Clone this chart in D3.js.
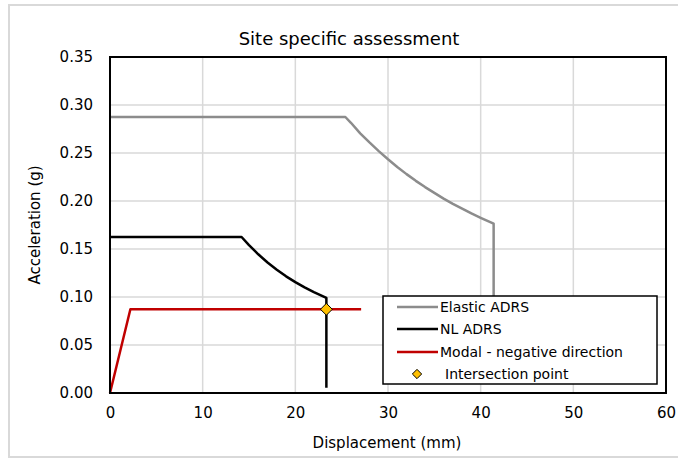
<!DOCTYPE html>
<html><head><meta charset="utf-8">
<script src="https://cdn.jsdelivr.net/npm/d3@7"></script>
<style>body{margin:0;background:#fff}svg{display:block}text{font-family:"DejaVu Sans",Verdana,sans-serif;fill:#000}</style>
</head><body><svg id="c" width="678" height="459"></svg>
<script>
const xTicks = [0, 10, 20, 30, 40, 50, 60];
const yTicks = [0, 0.05, 0.10, 0.15, 0.20, 0.25, 0.30, 0.35];
const elasticD = [0, 25.4, 26, 27, 28, 29, 30, 31, 32, 33, 34, 35, 36, 37, 38, 39, 40, 41.4, 41.4];
const elasticA = [0.2875, 0.2875, 0.2815, 0.2705, 0.261, 0.252, 0.2435, 0.2355, 0.228, 0.221, 0.2145, 0.2085, 0.2025, 0.197, 0.192, 0.187, 0.1825, 0.1765, 0.02];
const nlD = [0, 14.2, 15, 16, 17, 18, 19, 20, 21, 22, 23.35, 23.35];
const nlA = [0.1625, 0.1625, 0.154, 0.1445, 0.136, 0.1285, 0.1215, 0.1155, 0.11, 0.105, 0.099, 0.0055];
const modalD = [0, 2.2, 27.1];
const modalA = [0, 0.0872, 0.0872];
const interD = [23.35];
const interA = [0.0872];
const legendLabels = ["Elastic ADRS", "NL ADRS", "Modal - negative direction", "Intersection point"];

const svg = d3.select("#c");
const L = 110, R = 666, T = 57, B = 393;
const x = d3.scaleLinear().domain([0, 60]).range([L, R]);
const y = d3.scaleLinear().domain([0, 0.35]).range([B, T]);

svg.append("rect").attr("x", 9).attr("y", 5).attr("width", 700).attr("height", 452)
  .attr("fill", "#fff").attr("stroke", "#d9d9d9").attr("stroke-width", 2);

// grid
svg.append("g").selectAll("line").data(xTicks.slice(1, -1)).join("line")
  .attr("x1", d => x(d)).attr("x2", d => x(d)).attr("y1", T).attr("y2", B)
  .attr("stroke", "#d9d9d9").attr("stroke-width", 1.5);
svg.append("g").selectAll("line").data(yTicks.slice(1, -1)).join("line")
  .attr("x1", L).attr("x2", R).attr("y1", d => y(d)).attr("y2", d => y(d))
  .attr("stroke", "#d9d9d9").attr("stroke-width", 1.5);

// axes labels
const xa = svg.append("g").attr("transform", `translate(0,${B})`)
  .call(d3.axisBottom(x).tickValues(xTicks).tickSize(0).tickPadding(14).tickFormat(d3.format("d")));
xa.select(".domain").remove();
xa.selectAll("text").style("font-size", "15px").style("font-family", "DejaVu Sans");
const ya = svg.append("g").attr("transform", `translate(${L},0)`)
  .call(d3.axisLeft(y).tickValues(yTicks).tickSize(0).tickPadding(17).tickFormat(d3.format(".2f")));
ya.select(".domain").remove();
ya.selectAll("text").style("font-size", "15px").style("font-family", "DejaVu Sans");

const line = d3.line().x(d => x(d[0])).y(d => y(d[1]));
const zip = (a, b) => a.map((v, i) => [v, b[i]]);

svg.append("path").attr("d", line(zip(elasticD, elasticA))).attr("fill", "none")
  .attr("stroke", "#8c8c8c").attr("stroke-width", 2.5).attr("stroke-linejoin", "round");
svg.append("path").attr("d", line(zip(nlD, nlA))).attr("fill", "none")
  .attr("stroke", "#000").attr("stroke-width", 2.5).attr("stroke-linejoin", "round");
svg.append("path").attr("d", line(zip(modalD, modalA))).attr("fill", "none")
  .attr("stroke", "#c00000").attr("stroke-width", 2.5).attr("stroke-linejoin", "round");
const diamond = d3.symbol().type(d3.symbolDiamond2).size(90);
svg.append("g").selectAll("path").data(zip(interD, interA)).join("path")
  .attr("d", diamond).attr("transform", d => `translate(${x(d[0])},${y(d[1])})`)
  .attr("fill", "#ffc000").attr("stroke", "#000").attr("stroke-width", 1);

// plot frame
svg.append("rect").attr("x", L).attr("y", T).attr("width", R - L).attr("height", B - T)
  .attr("fill", "none").attr("stroke", "#000").attr("stroke-width", 2);

// title
svg.append("text").attr("x", 349).attr("y", 45).attr("text-anchor", "middle")
  .style("font-size", "18px").text("Site specific assessment");
svg.append("text").attr("x", 387).attr("y", 448).attr("text-anchor", "middle")
  .style("font-size", "15px").text("Displacement (mm)");
svg.append("text").attr("transform", `translate(40,${(T + B) / 2}) rotate(-90)`).attr("text-anchor", "middle")
  .style("font-size", "15px").text("Acceleration (g)");

// legend
const lg = svg.append("g");
lg.append("rect").attr("x", 383).attr("y", 296).attr("width", 274).attr("height", 88)
  .attr("fill", "#fff").attr("stroke", "#000").attr("stroke-width", 1.5);
const rowsY = [307, 329, 352, 374];
const colors = ["#8c8c8c", "#000", "#c00000"];
colors.forEach((c, i) => {
  lg.append("line").attr("x1", 397).attr("x2", 438).attr("y1", rowsY[i]).attr("y2", rowsY[i])
    .attr("stroke", c).attr("stroke-width", 2.5);
});
lg.append("path").attr("d", d3.symbol().type(d3.symbolDiamond2).size(55))
  .attr("transform", `translate(417,${rowsY[3]})`)
  .attr("fill", "#ffc000").attr("stroke", "#000").attr("stroke-width", 1);
legendLabels.forEach((t, i) => {
  lg.append("text").attr("x", i === 3 ? 445 : 440).attr("y", rowsY[i]).attr("dy", "0.35em")
    .style("font-size", "14px").text(t);
});
</script></body></html>
